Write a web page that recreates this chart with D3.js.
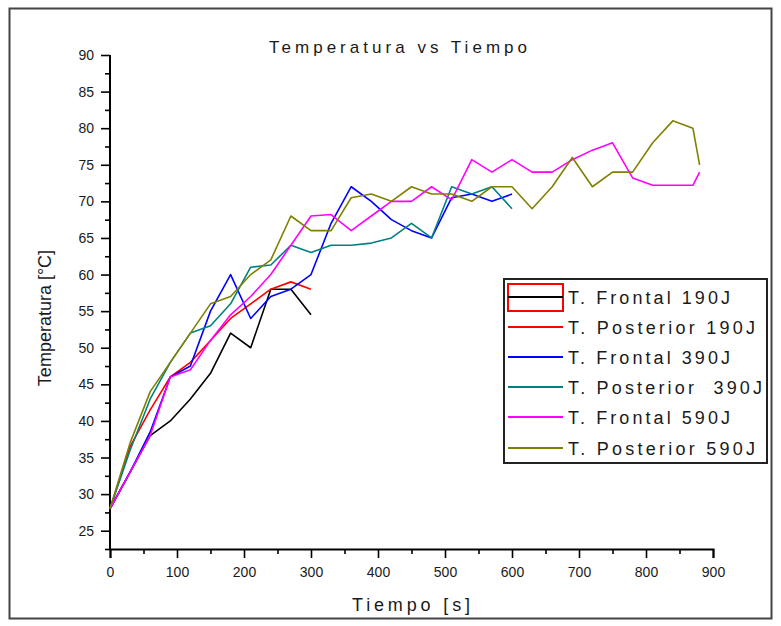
<!DOCTYPE html>
<html>
<head>
<meta charset="utf-8">
<script src="https://cdn.jsdelivr.net/npm/d3@7"></script>
<style>
  html, body { margin: 0; padding: 0; background: #fff; }
  svg { display: block; font-family: "Liberation Sans", Arial, sans-serif; }
</style>
</head>
<body>
<svg id="chart" width="781" height="626"></svg>
<script>
// Sample times (s) for each energy level
const tiempo190 = [0, 30, 60, 90, 120, 150, 180, 210, 240, 270, 300];
const tiempo390 = [0, 30, 60, 90, 120, 150, 180, 210, 240, 270, 300, 330, 360, 390, 420, 450, 480, 510, 540, 570, 600];
const tiempo590 = [0, 30, 60, 90, 120, 150, 180, 210, 240, 270, 300, 330, 360, 390, 420, 450, 480, 510, 540, 570, 600, 630, 660, 690, 720, 750, 780, 810, 840, 870, 880];

// Temperatures (°C)
const frontal190   = [28, 33, 38, 40, 43, 46.5, 52, 50, 58, 58, 54.5];
const posterior190 = [28, 36.5, 41.5, 46, 48, 51, 54, 56, 58, 59, 58];
const frontal390   = [28, 33, 38.5, 46, 47.5, 55, 60, 54, 57, 58, 60, 67, 72, 70, 67.5, 66, 65, 70.5, 71, 70, 71];
const posterior390 = [28, 36, 43, 48, 52, 53, 56, 61, 61.3, 64, 63, 64, 64, 64.3, 65, 67, 65, 72, 71, 72, 69];
const frontal590   = [28, 33, 38, 46, 47, 51, 54.5, 57, 60, 64, 68, 68.2, 66, 68, 70, 70, 72, 70.2, 75.7, 74, 75.7, 74, 74, 75.7, 77, 78, 73.2, 72.2, 72.2, 72.2, 74];
const posterior590 = [28, 37, 44, 48, 52, 56, 57, 60, 62, 68, 66, 66, 70.5, 71, 70, 72, 71, 71, 70, 72, 72, 69, 72, 76, 72, 74, 74, 78, 81, 80, 75];

// Series labels and colours
const seriesNames  = ["T. Frontal 190J", "T. Posterior 190J", "T. Frontal 390J", "T. Posterior  390J", "T. Frontal 590J", "T. Posterior 590J"];
const seriesColors = ["#000000", "#ff0000", "#0000ff", "#008080", "#ff00ff", "#808000"];

// Axis ticks
const xTicks = [0, 100, 200, 300, 400, 500, 600, 700, 800, 900];
const yTicks = [25, 30, 35, 40, 45, 50, 55, 60, 65, 70, 75, 80, 85, 90];

const series = [
  { name: seriesNames[0], color: seriesColors[0], t: tiempo190, v: frontal190 },
  { name: seriesNames[1], color: seriesColors[1], t: tiempo190, v: posterior190 },
  { name: seriesNames[2], color: seriesColors[2], t: tiempo390, v: frontal390 },
  { name: seriesNames[3], color: seriesColors[3], t: tiempo390, v: posterior390 },
  { name: seriesNames[4], color: seriesColors[4], t: tiempo590, v: frontal590 },
  { name: seriesNames[5], color: seriesColors[5], t: tiempo590, v: posterior590 }
];

const svg = d3.select("#chart");

// outer frame
svg.append("rect")
  .attr("x", 9.5).attr("y", 8.5)
  .attr("width", 762).attr("height", 610)
  .attr("fill", "none").attr("stroke", "#444").attr("stroke-width", 2);

const x = d3.scaleLinear().domain([0, 900]).range([110, 713]);
const y = d3.scaleLinear().domain([22.5, 90]).range([549, 55]);

const textColor = "#1a1a1a";

// x axis: minor ticks, then major ticks with labels
const xAxis = svg.append("g").attr("transform", "translate(0,549)");
xAxis.call(d3.axisBottom(x).tickValues(d3.range(50, 900, 100)).tickSize(5).tickFormat(""));
xAxis.call(g => g.select(".domain").remove());
const xMajor = svg.append("g").attr("transform", "translate(0,549)")
  .call(d3.axisBottom(x).tickValues(xTicks).tickSize(9).tickPadding(9).tickFormat(d3.format("d")));
xMajor.select(".domain").attr("stroke-width", 2);
xMajor.selectAll("text").attr("font-size", 14).attr("fill", textColor);

// y axis: minor ticks, then major ticks with labels
const yMinor = svg.append("g").attr("transform", "translate(110,0)")
  .call(d3.axisLeft(y).tickValues(d3.range(27.5, 90, 5).concat([22.5])).tickSize(5).tickFormat(""));
yMinor.select(".domain").remove();
const yMajor = svg.append("g").attr("transform", "translate(110,0)")
  .call(d3.axisLeft(y).tickValues(yTicks).tickSize(9).tickPadding(7).tickFormat(d3.format("d")));
yMajor.select(".domain").attr("stroke-width", 2)
  .attr("d", `M-0,${y(90)}V${y(22.5)}`);
yMajor.selectAll("text").attr("font-size", 14).attr("fill", textColor);
svg.selectAll(".tick line").attr("stroke-width", 1.6);
svg.selectAll(".tick text").attr("font-family", "Liberation Sans, Arial, sans-serif");

// data lines
const line = d3.line().x(d => x(d[0])).y(d => y(d[1]));
svg.append("g").selectAll("path")
  .data(series)
  .join("path")
  .attr("d", s => line(s.t.map((t, i) => [t, s.v[i]])))
  .attr("fill", "none")
  .attr("stroke", s => s.color)
  .attr("stroke-width", 1.6)
  .attr("stroke-linejoin", "round");

// title
svg.append("text")
  .attr("x", 398).attr("y", 53)
  .attr("text-anchor", "middle")
  .attr("font-size", 17)
  .attr("fill", textColor)
  .attr("textLength", 258).attr("lengthAdjust", "spacing")
  .text("Temperatura vs Tiempo");

// axis titles
svg.append("text")
  .attr("x", 411).attr("y", 611)
  .attr("text-anchor", "middle")
  .attr("font-size", 18)
  .attr("fill", textColor)
  .attr("textLength", 118).attr("lengthAdjust", "spacing")
  .text("Tiempo [s]");

svg.append("text")
  .attr("transform", "translate(51,318) rotate(-90)")
  .attr("text-anchor", "middle")
  .attr("font-size", 18)
  .attr("fill", textColor)
  .text("Temperatura [°C]");

// legend
const legend = svg.append("g");
legend.append("rect")
  .attr("x", 504).attr("y", 279)
  .attr("width", 263).attr("height", 184)
  .attr("fill", "#fff").attr("stroke", "#222").attr("stroke-width", 2);

const rowY = [297, 327, 357, 387, 417, 448];
const textWidths = [162, 187, 162, 194, 162, 187];
const rows = legend.selectAll("g.row")
  .data(series)
  .join("g").attr("class", "row")
  .attr("transform", (d, i) => `translate(0,${rowY[i]})`);

rows.filter((d, i) => i === 0).append("rect")
  .attr("x", 508).attr("y", -13)
  .attr("width", 55).attr("height", 27)
  .attr("fill", "none").attr("stroke", "#ff0000").attr("stroke-width", 2);

rows.append("line")
  .attr("x1", 508).attr("x2", 563)
  .attr("y1", 0).attr("y2", 0)
  .attr("stroke", d => d.color).attr("stroke-width", 2);

rows.append("text")
  .attr("x", 568).attr("y", 7)
  .attr("font-size", 18)
  .attr("fill", textColor)
  .style("white-space", "pre")
  .attr("textLength", (d, i) => textWidths[i]).attr("lengthAdjust", "spacing")
  .text(d => d.name);
</script>
</body>
</html>
